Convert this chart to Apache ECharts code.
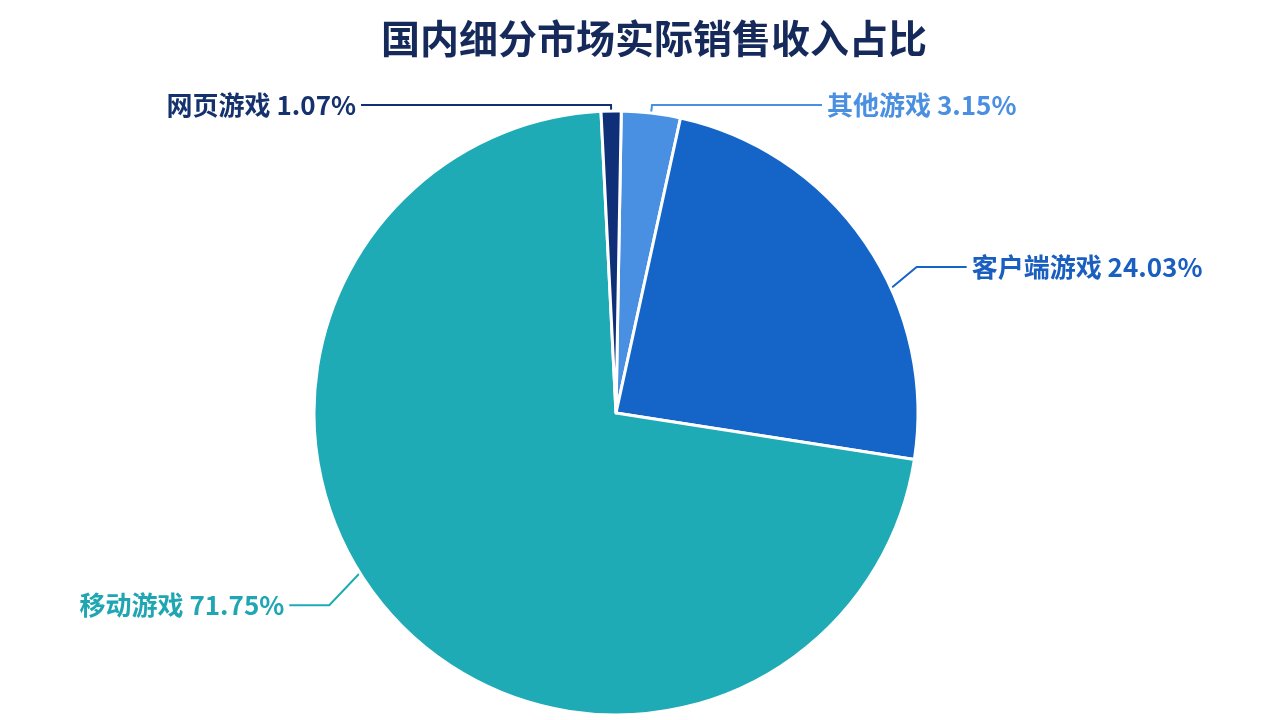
<!DOCTYPE html>
<html>
<head>
<meta charset="utf-8">
<script src="https://cdn.jsdelivr.net/npm/echarts@6.0.0/dist/echarts.min.js"></script>
<style>html,body{margin:0;padding:0;background:#fff}#main{width:1280px;height:720px}</style>
</head>
<body>
<div id="main"></div>
<script>
const titleText = '国内细分市场实际销售收入占比';
const categories = ['其他游戏', '客户端游戏', '移动游戏', '网页游戏'];
const values = [3.15, 24.03, 71.75, 1.07];
const colors = ['#4a90e2', '#1565c8', '#1fabb6', '#0f2f78'];
const labelColors = ['#4a8fe0', '#1a5fc0', '#1fa6b2', '#15326f'];
const lineLen = [8, 20, 30, 6];
const lineLen2 = [170, 50, 40, 250];
const labelShiftX = [0, 35, -40, 0];
const labelShiftY = [0, 36, -30, 0];
const lineStartRotate = [0, -10, -10, 0];
const pieCenter = [616, 413];

const chart = echarts.init(document.getElementById('main'));
chart.setOption({
  animation: false,
  backgroundColor: '#ffffff',
  textStyle: { fontFamily: '"Noto Sans CJK SC", "Noto Sans", sans-serif' },
  title: {
    text: titleText,
    left: 376,
    top: 14,
    textStyle: { fontSize: 39, fontWeight: 'bold', color: '#15295a', fontFamily: '"Noto Sans CJK SC", sans-serif' }
  },
  series: [{
    type: 'pie',
    center: pieCenter,
    radius: 302,
    startAngle: 89,
    clockwise: true,
    avoidLabelOverlap: false,
    itemStyle: { borderColor: '#ffffff', borderWidth: 3 },
    label: {
      show: true,
      position: 'outside',
      fontSize: 26,
      fontWeight: 600,
      formatter: function (p) { return p.name + ' ' + p.value.toFixed(2) + '%'; }
    },
    labelLine: { show: true, lineStyle: { width: 2 } },
    labelLayout: function (p) {
      const i = p.dataIndex;
      const dx = labelShiftX[i], dy = labelShiftY[i];
      if (!dx && !dy) return {};
      const pts = p.labelLinePoints;
      if (!pts) return { dx: dx, dy: dy };
      const ex = pts[0][0] - pieCenter[0], ey = pts[0][1] - pieCenter[1];
      const r = Math.sqrt(ex * ex + ey * ey);
      const th = Math.atan2(-ey, ex) + lineStartRotate[i] * Math.PI / 180;
      const start = [pieCenter[0] + r * Math.cos(th), pieCenter[1] - r * Math.sin(th)];
      return {
        dx: dx,
        dy: dy,
        labelLinePoints: [start, [pts[1][0] + dx, pts[1][1] + dy], [pts[2][0] + dx, pts[2][1] + dy]]
      };
    },
    data: categories.map(function (c, i) {
      return {
        name: c,
        value: values[i],
        itemStyle: { color: colors[i] },
        label: { color: labelColors[i] },
        labelLine: { length: lineLen[i], length2: lineLen2[i], lineStyle: { color: colors[i] } }
      };
    })
  }]
});
</script>
</body>
</html>
